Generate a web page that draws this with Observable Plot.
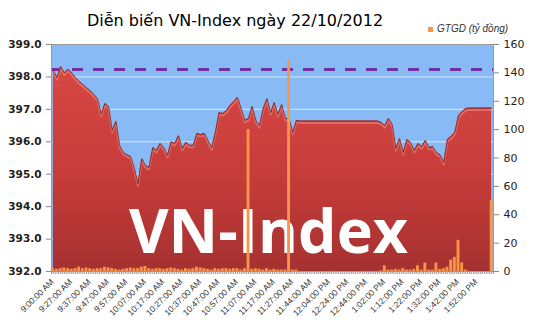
<!DOCTYPE html>
<html>
<head>
<meta charset="utf-8">
<script src="https://cdn.jsdelivr.net/npm/d3@7"></script>
<script src="https://cdn.jsdelivr.net/npm/@observablehq/plot@0.6"></script>
<style>
  body { margin: 0; background: #fff; }
  #wrap { position: relative; width: 535px; height: 335px; overflow: hidden; }
  #title { position: absolute; left: 0; width: 470px; top: 11px; text-align: center; font: 16px/20px "DejaVu Sans", sans-serif; color: #000; white-space: nowrap; }
  #legend { position: absolute; left: 428px; top: 23px; font: italic 10px/12px "Liberation Sans", Arial, sans-serif; color: #333; white-space: nowrap; }
  #legend .sw { display: inline-block; width: 5px; height: 5px; background: #F79646; margin-right: 4px; vertical-align: 0px; }
</style>
</head>
<body>
<div id="wrap">
  <div id="title">Diễn biến VN-Index ngày 22/10/2012</div>
  <div id="legend"><span class="sw"></span>GTGD (tỷ đồng)</div>
</div>
<script>
// ---- Data ----
const titleText = "Diễn biến VN-Index ngày 22/10/2012";
const legendText = "GTGD (tỷ đồng)";
const watermarkText = "VN-Index";

// x-axis tick labels (one every 10 trading categories)
const timeLabels = [
  "9:00:00 AM","9:27:00 AM","9:37:00 AM","9:47:00 AM","9:57:00 AM","10:07:00 AM",
  "10:17:00 AM","10:27:00 AM","10:37:00 AM","10:47:00 AM","10:57:00 AM","11:07:00 AM",
  "11:17:00 AM","11:27:00 AM","11:44:00 AM","12:04:00 PM","12:24:00 PM","12:44:00 PM",
  "1:02:00 PM","1:12:00 PM","1:22:00 PM","1:32:00 PM","1:42:00 PM","1:52:00 PM"
];
const categoriesPerLabel = 10;
const categoryCount = 240;
const categoriesPerSample = 2;

// VN-Index level (one sample per two categories)
const indexValues = [
  398.20, 397.98, 398.32, 398.12, 398.24, 398.12, 397.98, 397.86, 397.77, 397.67,
  397.58, 397.46, 397.33, 396.85, 397.18, 397.09, 396.35, 396.63, 395.89, 395.67,
  395.60, 395.55, 395.18, 394.71, 395.48, 395.27, 395.21, 395.82, 395.73, 395.95,
  395.82, 395.58, 396.00, 395.95, 396.19, 395.79, 395.98, 395.89, 395.89, 396.26,
  396.22, 396.26, 396.04, 395.82, 396.29, 396.90, 396.87, 396.96, 397.12, 397.24,
  397.37, 397.03, 396.66, 396.72, 397.09, 396.66, 396.50, 397.03, 397.33, 396.90,
  397.21, 396.84, 397.15, 396.72, 396.72, 396.29, 396.66, 396.64, 396.64, 396.64,
  396.64, 396.64, 396.64, 396.64, 396.64, 396.64, 396.64, 396.64, 396.64, 396.64,
  396.64, 396.64, 396.64, 396.64, 396.64, 396.64, 396.64, 396.64, 396.64, 396.60,
  396.50, 396.72, 396.53, 395.79, 396.10, 395.67, 396.07, 395.98, 395.73, 395.95,
  395.85, 396.04, 395.82, 395.85, 395.67, 395.60, 395.36, 396.07, 396.16, 396.29,
  396.81, 396.93, 397.03, 397.04, 397.04, 397.04, 397.04, 397.04, 397.04, 397.04
];

// Trading value GTGD (tỷ đồng), same sampling
const volumeValues = [
  2, 1.5, 2, 2.5, 2, 1.5, 2, 3, 2, 2.5,
  2, 1.5, 2, 2, 3, 2.5, 2, 1.5, 1, 1.5,
  2, 2.5, 2, 2, 3, 3.5, 2, 1.5, 2, 2,
  1.5, 2, 2.5, 2, 1.5, 1, 2, 1.5, 2, 3,
  2.5, 2, 1.5, 1, 2, 1.5, 2, 2, 1.5, 2,
  2, 1, 2, 100, 1.5, 2, 1.5, 1, 2, 1,
  1.5, 1, 1, 1, 149, 1, 1, 0, 0, 0,
  0, 0, 0, 0, 0, 0, 0, 0, 0, 0,
  0, 0, 0, 0, 0, 0, 0, 0, 0, 0.5,
  4, 1, 1, 1.5, 1, 2, 1, 1, 1.5, 4,
  1, 6, 1, 1, 6, 1.5, 2, 3, 8, 10,
  22, 6, 1, 0, 0, 0, 0, 0, 0, 50
];

const referenceLevel = 398.23;
const indexDomain = [392, 399];
const indexTicks = [392, 393, 394, 395, 396, 397, 398, 399];
const volumeDomain = [0, 160];
const volumeTicks = [0, 20, 40, 60, 80, 100, 120, 140, 160];

// ---- Build ----
const toIdx = v => indexDomain[0] + (v - volumeDomain[0]) * (indexDomain[1] - indexDomain[0]) / (volumeDomain[1] - volumeDomain[0]);
const fromIdx = d => Math.round(volumeDomain[0] + (d - indexDomain[0]) * (volumeDomain[1] - volumeDomain[0]) / (indexDomain[1] - indexDomain[0]));

const series = indexValues.map((v, i) => ({
  x: i * categoriesPerSample + categoriesPerSample / 2,
  x1: i * categoriesPerSample,
  x2: (i + 1) * categoriesPerSample,
  v,
  vol: volumeValues[i]
}));
const labelPos = timeLabels.map((t, k) => k * categoriesPerLabel + 0.5);
const labelOf = new Map(labelPos.map((p, k) => [p, timeLabels[k]]));
const minorTicks = d3.range(0, categoryCount + 1);

const gradientDefs = () => {
  const defs = document.createElementNS("http://www.w3.org/2000/svg", "defs");
  defs.innerHTML = `
    <linearGradient id="redFill" gradientUnits="userSpaceOnUse" x1="0" y1="60" x2="0" y2="271">
      <stop offset="0" stop-color="#d84843"/>
      <stop offset="0.55" stop-color="#c63c3a"/>
      <stop offset="1" stop-color="#a53130"/>
    </linearGradient>`;
  return defs;
};

const chart = Plot.plot({
  width: 535,
  height: 335,
  marginLeft: 51,
  marginRight: 42,
  marginTop: 44,
  marginBottom: 64,
  style: { fontFamily: "DejaVu Sans, sans-serif", background: "transparent", overflow: "visible" },
  x: { domain: [0, categoryCount] },
  y: { domain: indexDomain },
  marks: [
    gradientDefs,
    Plot.frame({ fill: "#88bbf6", stroke: null }),
    Plot.gridY(indexTicks.slice(1, -1), { stroke: "#e6eefa", strokeOpacity: 0.85, strokeWidth: 1 }),
    Plot.ruleY([referenceLevel], { stroke: "#7030a0", strokeWidth: 3, strokeDasharray: "11,10" }),
    Plot.areaY(series, { x: "x", y1: indexDomain[0], y2: "v", fill: "url(#redFill)" }),
    Plot.lineY(series, { x: "x", y: "v", stroke: "#f28a86", strokeWidth: 2, strokeOpacity: 0.55, dy: 2 }),
    Plot.lineY(series, { x: "x", y: "v", stroke: "#6e1f1f", strokeWidth: 1, strokeOpacity: 0.8 }),
    Plot.text([watermarkText], { ariaLabel: "watermark", frameAnchor: "bottom", lineAnchor: "bottom", dx: -4, dy: -19, fontSize: 61, fontWeight: "bold", fontFamily: "Open Sans, sans-serif", fill: "#ffffff" }),
    Plot.rect(series, { x1: "x1", x2: "x2", y1: indexDomain[0], y2: d => toIdx(d.vol), fill: "#f79646", insetLeft: 0.4, insetRight: 0.4 }),
    Plot.frame({ stroke: "#9a9a9a", fill: "none" }),
    Plot.axisY(indexTicks, { anchor: "left", tickSize: 5, tickPadding: 5, tickFormat: d => d.toFixed(1), fontSize: 10.5, fontWeight: "bold", fill: "#222", stroke: "#888", label: null }),
    Plot.axisY(volumeTicks.map(toIdx), { anchor: "right", tickSize: 5, tickPadding: 5, tickFormat: fromIdx, fontSize: 11, fill: "#222", stroke: "#888", label: null }),
    Plot.axisX(minorTicks, { anchor: "bottom", tickSize: 3, tickFormat: () => "", stroke: "#999", label: null }),
    Plot.axisX(labelPos, { anchor: "bottom", tickSize: 0, tickPadding: 9, tickRotate: -45, tickFormat: d => labelOf.get(d), fontSize: 8.5, fontFamily: "Liberation Sans, Arial, sans-serif", fill: "#333", label: null })
  ]
});
document.getElementById("wrap").prepend(chart);
chart.style.position = "absolute";
chart.style.left = "0";
chart.style.top = "0";
const wm = chart.querySelector('[aria-label="watermark"]');
if (wm) wm.style.filter = "drop-shadow(2px 2px 1.5px rgba(70,10,10,0.55))";
</script>
</body>
</html>
